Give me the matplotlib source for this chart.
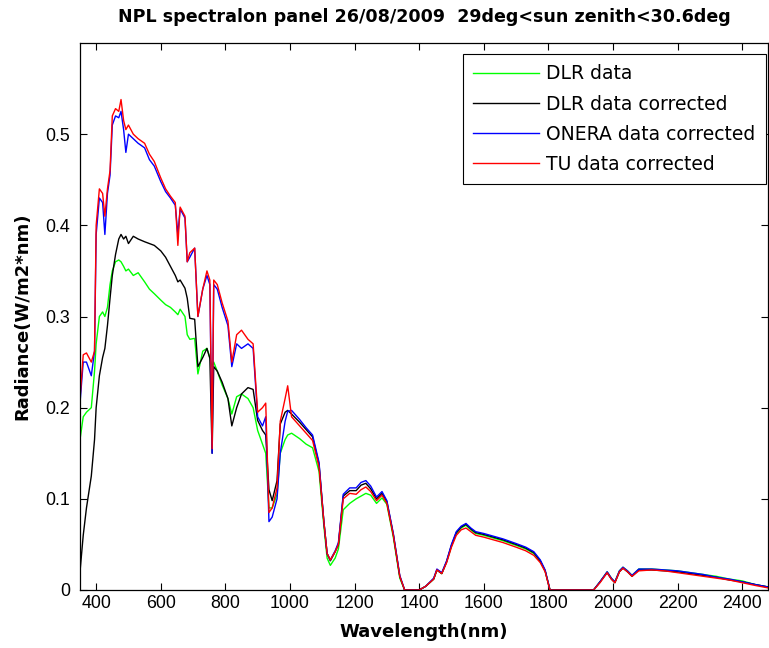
import numpy as np
import matplotlib
matplotlib.use('Agg')
import matplotlib.pyplot as plt

# Longitudes de onda (nm) y radiancias
wl = [350, 360, 370, 385, 395, 400, 410, 420, 427, 435, 443, 450, 460, 470, 477, 485, 492, 500,
      515, 530, 550, 565, 580, 600, 615, 630, 645, 653, 660, 675, 682, 690, 705, 715, 730, 743,
      752, 759, 764, 775, 790, 808, 820, 835, 850, 870, 886, 900, 915, 925, 935, 945, 960, 970,
      985, 993, 1005, 1030, 1050, 1070, 1090, 1105, 1115, 1125, 1140, 1150, 1165, 1185, 1205,
      1220, 1235, 1250, 1268, 1285, 1300, 1320, 1340, 1355, 1400, 1420, 1445, 1455, 1470, 1485,
      1500, 1515, 1530, 1545, 1560, 1575, 1600, 1630, 1660, 1700, 1730, 1755, 1775, 1790, 1805,
      1940, 1960, 1982, 1995, 2006, 2020, 2031, 2045, 2059, 2080, 2120, 2160, 2200, 2240, 2280,
      2320, 2360, 2400, 2440, 2500]

dlr = [0.165, 0.19, 0.195, 0.2, 0.24, 0.27, 0.30, 0.305, 0.30, 0.31, 0.335, 0.35, 0.36, 0.362, 0.36, 0.355, 0.35, 0.352,
       0.345, 0.348, 0.338, 0.33, 0.325, 0.318, 0.313, 0.31, 0.305, 0.302, 0.308, 0.30, 0.28, 0.275, 0.276, 0.237, 0.262, 0.265,
       0.255, 0.245, 0.25, 0.24, 0.225, 0.21, 0.193, 0.212, 0.215, 0.21, 0.20, 0.175, 0.16, 0.15, 0.09, 0.09, 0.105, 0.15,
       0.165, 0.17, 0.172, 0.166, 0.16, 0.156, 0.13, 0.07, 0.035, 0.027, 0.035, 0.045, 0.088, 0.095, 0.10,
       0.103, 0.106, 0.104, 0.095, 0.101, 0.094, 0.058, 0.013, 0.0, 0.0, 0.004, 0.012, 0.022, 0.018, 0.031,
       0.048, 0.062, 0.068, 0.071, 0.066, 0.062, 0.060, 0.057, 0.054, 0.049, 0.045, 0.040, 0.031, 0.021, 0.0,
       0.0, 0.009, 0.020, 0.013, 0.009, 0.021, 0.025, 0.021, 0.016, 0.023, 0.023, 0.022, 0.021, 0.019, 0.017,
       0.015, 0.012, 0.010, 0.006, 0.002]

dlr_corr = [0.02, 0.06, 0.09, 0.125, 0.165, 0.20, 0.235, 0.255, 0.265, 0.29, 0.32, 0.345, 0.368, 0.385, 0.39, 0.385, 0.388, 0.38,
            0.388, 0.385, 0.382, 0.38, 0.378, 0.372, 0.365, 0.355, 0.345, 0.338, 0.34, 0.331, 0.32, 0.298, 0.297, 0.245, 0.255, 0.265,
            0.254, 0.15, 0.245, 0.24, 0.228, 0.21, 0.18, 0.20, 0.215, 0.222, 0.22, 0.186, 0.175, 0.17, 0.11, 0.098, 0.12, 0.182,
            0.195, 0.197, 0.193, 0.184, 0.176, 0.168, 0.138, 0.075, 0.04, 0.032, 0.042, 0.05, 0.103, 0.109, 0.109,
            0.115, 0.117, 0.111, 0.10, 0.106, 0.097, 0.061, 0.015, 0.0, 0.0, 0.004, 0.012, 0.022, 0.018, 0.031,
            0.049, 0.063, 0.069, 0.072, 0.067, 0.063, 0.061, 0.058, 0.055, 0.050, 0.046, 0.041, 0.032, 0.021, 0.0,
            0.0, 0.009, 0.019, 0.012, 0.008, 0.020, 0.024, 0.020, 0.015, 0.022, 0.022, 0.021, 0.020, 0.018, 0.016,
            0.014, 0.011, 0.009, 0.006, 0.002]

onera_corr = [0.205, 0.25, 0.25, 0.235, 0.262, 0.39, 0.43, 0.425, 0.39, 0.435, 0.455, 0.51, 0.52, 0.518, 0.525, 0.505, 0.48, 0.50,
              0.495, 0.49, 0.485, 0.472, 0.465, 0.448, 0.437, 0.43, 0.422, 0.39, 0.418, 0.408, 0.36, 0.365, 0.375, 0.30, 0.33, 0.345,
              0.335, 0.15, 0.335, 0.33, 0.31, 0.29, 0.245, 0.27, 0.265, 0.27, 0.265, 0.19, 0.18, 0.19, 0.075, 0.08, 0.10, 0.15,
              0.185, 0.196, 0.197, 0.187, 0.178, 0.170, 0.14, 0.075, 0.04, 0.033, 0.043, 0.052, 0.105, 0.112, 0.112,
              0.118, 0.12, 0.114, 0.102, 0.108, 0.098, 0.062, 0.016, 0.0, 0.0, 0.004, 0.013, 0.023, 0.019, 0.032,
              0.05, 0.064, 0.07, 0.073, 0.068, 0.064, 0.062, 0.059, 0.056, 0.051, 0.047, 0.042, 0.033, 0.022, 0.0,
              0.0, 0.009, 0.02, 0.013, 0.009, 0.021, 0.025, 0.021, 0.016, 0.023, 0.023, 0.022, 0.021, 0.019, 0.017,
              0.014, 0.012, 0.009, 0.006, 0.002]

tu_corr = [0.21, 0.258, 0.26, 0.25, 0.262, 0.40, 0.44, 0.435, 0.41, 0.44, 0.46, 0.52, 0.528, 0.525, 0.538, 0.515, 0.505, 0.51,
           0.50, 0.495, 0.49, 0.478, 0.47, 0.452, 0.44, 0.432, 0.425, 0.378, 0.42, 0.41, 0.36, 0.37, 0.375, 0.30, 0.33, 0.35,
           0.34, 0.155, 0.34, 0.335, 0.315, 0.295, 0.25, 0.28, 0.285, 0.275, 0.27, 0.195, 0.20, 0.205, 0.085, 0.09, 0.112, 0.185,
           0.21, 0.224, 0.19, 0.18, 0.172, 0.164, 0.135, 0.075, 0.04, 0.033, 0.042, 0.05, 0.10, 0.106, 0.105,
           0.11, 0.113, 0.108, 0.098, 0.104, 0.095, 0.06, 0.015, 0.0, 0.0, 0.004, 0.012, 0.022, 0.018, 0.03,
           0.047, 0.06, 0.066, 0.068, 0.064, 0.060, 0.058, 0.055, 0.052, 0.047, 0.043, 0.038, 0.030, 0.02, 0.0,
           0.0, 0.008, 0.019, 0.012, 0.008, 0.02, 0.024, 0.02, 0.015, 0.021, 0.022, 0.021, 0.019, 0.017, 0.015,
           0.013, 0.011, 0.008, 0.005, 0.001]

etiquetas = ['DLR data', 'DLR data corrected', 'ONERA data corrected', 'TU data corrected']
colores = ['#00ff00', '#000000', '#0000ff', '#ff0000']

plt.rcParams['font.family'] = ['Liberation Sans', 'DejaVu Sans']

fig = plt.figure(figsize=(7.69, 6.48), dpi=100)
ax = fig.add_axes([80 / 769, 58 / 648, 688 / 769, 547 / 648])

for serie, color, nombre in zip([dlr, dlr_corr, onera_corr, tu_corr], colores, etiquetas):
    ax.plot(wl, serie, color=color, lw=1.0, label=nombre)

ax.set_xlim(350, 2480)
ax.set_ylim(0, 0.6)
ax.set_xticks(np.arange(400, 2401, 200))
ax.set_yticks([0, 0.1, 0.2, 0.3, 0.4, 0.5])
ax.set_yticklabels(['0', '0.1', '0.2', '0.3', '0.4', '0.5'])
ax.tick_params(direction='in', top=True, right=True, labelsize=12.8, length=5, width=0.8)
ax.tick_params(axis='y', pad=7)
for s in ax.spines.values():
    s.set_linewidth(0.9)

# Titulo y etiquetas en negrita (fuente ancha, como la original)
negrita = dict(family='DejaVu Sans', fontsize=13, fontweight='bold')
ax.set_title('NPL spectralon panel 26/08/2009  29deg<sun zenith<30.6deg', pad=15,
             family='DejaVu Sans', fontsize=12.6, fontweight='bold')
ax.set_xlabel('Wavelength(nm)', labelpad=8, **negrita)
ax.set_ylabel('Radiance(W/m2*nm)', labelpad=10, **negrita)

leg = ax.legend(loc='upper right', bbox_to_anchor=(0.997, 0.98), borderaxespad=0,
                prop={'family': 'DejaVu Sans', 'size': 13.5}, fancybox=False, framealpha=1,
                edgecolor='black', handlelength=3.5, handletextpad=0.4,
                labelspacing=0.6, borderpad=0.55)
leg.get_frame().set_linewidth(0.8)

plt.savefig('out.png', dpi=100)
